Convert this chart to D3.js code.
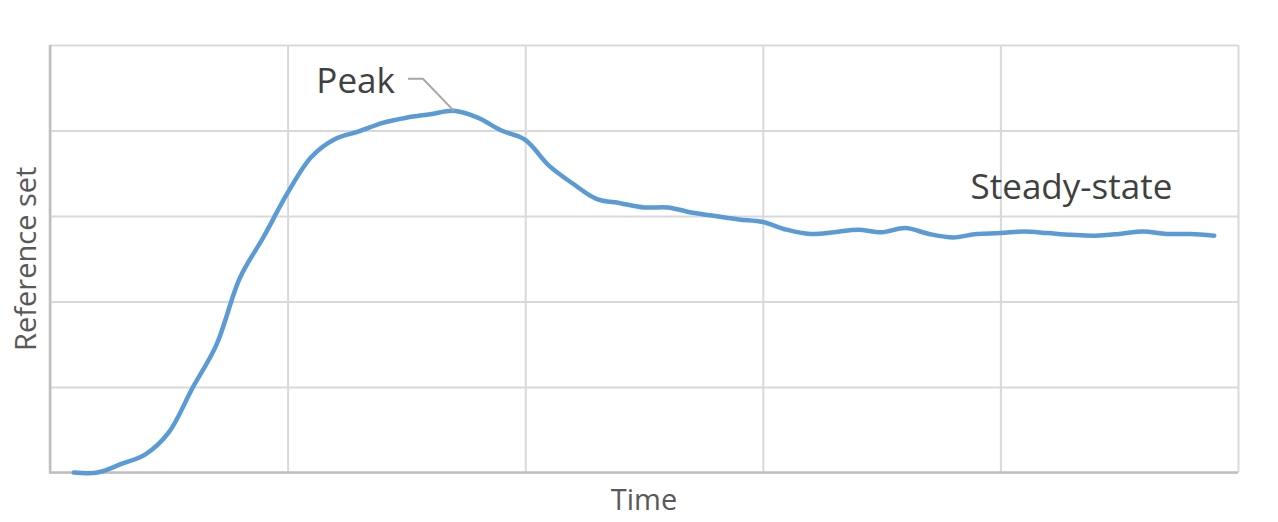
<!DOCTYPE html>
<html>
<head>
<meta charset="utf-8">
<script src="https://cdn.jsdelivr.net/npm/d3@7"></script>
<style>
  html, body { margin: 0; padding: 0; background: #fff; }
  svg text { font-family: "Open Sans", "Noto Sans", sans-serif; }
</style>
</head>
<body>
<div id="chart"></div>
<script>
// time points
const times = [0.1, 0.2, 0.3, 0.4, 0.5, 0.6, 0.7, 0.8, 0.9, 1.0,
               1.1, 1.2, 1.3, 1.4, 1.5, 1.6, 1.7, 1.8, 1.9, 2.0,
               2.1, 2.2, 2.3, 2.4, 2.5, 2.6, 2.7, 2.8, 2.9, 3.0,
               3.1, 3.2, 3.3, 3.4, 3.5, 3.6, 3.7, 3.8, 3.9, 4.0,
               4.1, 4.2, 4.3, 4.4, 4.5, 4.6, 4.7, 4.8, 4.9];
const response = [0.00, 0.00, 0.10, 0.21, 0.47, 0.99, 1.49, 2.28, 2.76, 3.27,
                  3.69, 3.90, 3.99, 4.09, 4.15, 4.19, 4.23, 4.15, 4.00, 3.89,
                  3.59, 3.38, 3.20, 3.15, 3.10, 3.10, 3.04, 3.00, 2.96, 2.93,
                  2.84, 2.79, 2.81, 2.84, 2.81, 2.86, 2.79, 2.75, 2.79, 2.80,
                  2.82, 2.80, 2.78, 2.77, 2.79, 2.82, 2.79, 2.79, 2.77];
const xTicks = [0, 1, 2, 3, 4, 5];
const yTicks = [0, 1, 2, 3, 4, 5];
const annotations = [
  { label: "Peak", t: 1.7, v: 4.23 },
  { label: "Steady-state", t: 4.4, v: 2.77 }
];

const W = 1278, H = 522;
const margin = { top: 45, right: 40, bottom: 50, left: 50 };

const svg = d3.select("#chart").append("svg")
  .attr("width", W).attr("height", H);

const x = d3.scaleLinear().domain([0, 5]).range([margin.left, W - margin.right]);
const y = d3.scaleLinear().domain([0, 5]).range([H - margin.bottom + 0.5, margin.top]);

// gridlines
svg.append("g")
  .attr("transform", `translate(0,${y(0)})`)
  .call(d3.axisBottom(x).tickValues(xTicks).tickSize(-(y(0) - y(5))).tickFormat(""))
  .call(g => g.select(".domain").remove())
  .call(g => g.selectAll("line").attr("stroke", "#d9d9d9").attr("stroke-width", 2));

svg.append("g")
  .attr("transform", `translate(${x(0)},0)`)
  .call(d3.axisLeft(y).tickValues(yTicks).tickSize(-(x(5) - x(0))).tickFormat(""))
  .call(g => g.select(".domain").remove())
  .call(g => g.selectAll("line").attr("stroke", "#d9d9d9").attr("stroke-width", 2));

// axis lines
svg.append("line")
  .attr("x1", x(0)).attr("x2", x(0)).attr("y1", y(5)).attr("y2", y(0))
  .attr("stroke", "#bfbfbf").attr("stroke-width", 2.5);
svg.append("line")
  .attr("x1", x(0) - 1).attr("x2", x(5)).attr("y1", y(0)).attr("y2", y(0))
  .attr("stroke", "#bfbfbf").attr("stroke-width", 2.5);

// response curve
const data = times.map((t, i) => ({ t, v: response[i] }));
const line = d3.line()
  .x(d => x(d.t))
  .y(d => y(d.v))
  .curve(d3.curveCatmullRom.alpha(0.5));

svg.append("path")
  .datum(data)
  .attr("fill", "none")
  .attr("stroke", "#5b9bd5")
  .attr("stroke-width", 4.5)
  .attr("stroke-linecap", "round")
  .attr("stroke-linejoin", "round")
  .attr("d", line);

// peak label with leader
const peak = annotations[0];
svg.append("polyline")
  .attr("points", [[x(peak.t) - 46, y(peak.v) - 32], [x(peak.t) - 31, y(peak.v) - 32], [x(peak.t), y(peak.v)]].join(" "))
  .attr("fill", "none")
  .attr("stroke", "#a6a6a6")
  .attr("stroke-width", 2);
svg.append("text")
  .attr("x", x(peak.t) - 59).attr("y", y(peak.v) - 18)
  .attr("text-anchor", "end")
  .attr("font-size", 35)
  .attr("fill", "#404040")
  .text(peak.label);

const steady = annotations[1];
svg.append("text")
  .attr("x", x(steady.t) - 24).attr("y", y(steady.v) - 37)
  .attr("text-anchor", "middle")
  .attr("font-size", 35)
  .attr("fill", "#404040")
  .text(steady.label);

// axis titles
svg.append("text")
  .attr("x", (x(0) + x(5)) / 2).attr("y", 510)
  .attr("text-anchor", "middle")
  .attr("font-size", 29)
  .attr("fill", "#595959")
  .text("Time");

svg.append("text")
  .attr("transform", `translate(36,${(y(0) + y(5)) / 2}) rotate(-90)`)
  .attr("text-anchor", "middle")
  .attr("font-size", 29)
  .attr("fill", "#595959")
  .text("Reference set");
</script>
</body>
</html>
